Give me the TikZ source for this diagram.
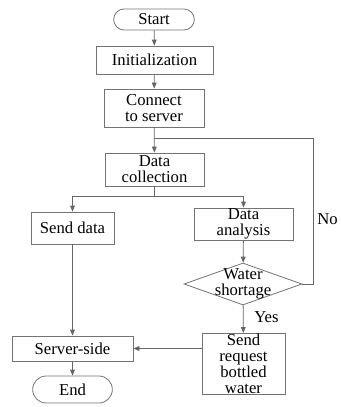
\documentclass[tikz,border=0pt]{standalone}
\usepackage{fontspec}
\setmainfont{Liberation Serif}
\usetikzlibrary{arrows.meta}
\usetikzlibrary{shapes}

\begin{document}
\begin{tikzpicture}[x=0.75pt,y=0.75pt,yscale=-1,xscale=1,
  flowtext/.style={font=\fontsize{12.5}{12}\selectfont, align=center, text=black},
  procbox/.style 2 args={draw=black!55, line width=0.6pt, inner sep=0.5pt, flowtext, minimum width=#1*0.75pt, minimum height=#2*0.75pt},
  termbox/.style 2 args={procbox={#1}{#2}, rounded rectangle},
  decbox/.style={draw=black!55, line width=0.6pt, flowtext, diamond, aspect=2.8, inner sep=-3pt, minimum width=118*0.75pt, minimum height=42*0.75pt},
  flowline/.style={draw=black!60, line width=0.6pt},
  flowarrow/.style={flowline, -{Triangle[length=4.5pt,width=3.6pt]}}]
\useasboundingbox (0,0) rectangle (340,407);

%Shape: Terminal [id:start]
\node [termbox={82}{21}] (start) at (154,19.5) {Start};
%Shape: Rectangle [id:init]
\node [procbox={117}{28}] (init) at (154.5,60) {Initialization};
%Shape: Rectangle [id:connect]
\node [procbox={100}{38}] (connect) at (154,108) {Connect\\to server};
%Shape: Rectangle [id:collect]
\node [procbox={99}{33}] (collect) at (154.5,169.5) {Data\\collection};
%Shape: Rectangle [id:senddata]
\node [procbox={83}{32}] (senddata) at (72.5,228) {Send data};
%Shape: Rectangle [id:analysis]
\node [procbox={99}{32}] (analysis) at (243.5,224) {Data\\analysis};
%Shape: Diamond [id:shortage]
\node [decbox] (shortage) at (243,284) {Water\\shortage};
%Shape: Rectangle [id:request]
\node [procbox={83}{57}] (request) at (243.5,364) {Send\\request\\bottled\\water};
%Shape: Rectangle [id:server]
\node [procbox={121}{25}] (server) at (72.5,348.5) {Server-side};
%Shape: Terminal [id:end]
\node [termbox={81}{27}] (end) at (72.5,389.5) {End};

\coordinate (nojoin) at (154,138);

%Connectors
\draw [flowarrow] (start) -- (init);
\draw [flowarrow] (init) -- (connect);
\draw [flowarrow] (connect) -- (collect);
\draw [flowarrow] (collect.south) -- ++(0,9.5) -| (senddata.north);
\draw [flowarrow] (collect.south) -- ++(0,9.5) -| (analysis.north);
\draw [flowarrow] (analysis) -- (shortage);
\draw [flowarrow] (shortage) -- (request);
\draw [flowline] (shortage.east) -- ++(11,0) |- (nojoin);
\draw [flowarrow] (senddata) -- (server);
\draw [flowarrow] (request.west |- server.east) -- (server.east);
\draw [flowarrow] (server) -- (end);

% Text Node
\node [flowtext, anchor=west, inner sep=0.75pt] (nolabel) at (316,219) {No};
% Text Node
\node [flowtext, anchor=west, inner sep=0.75pt] (yeslabel) at (253,317) {Yes};

\end{tikzpicture}
\end{document}
